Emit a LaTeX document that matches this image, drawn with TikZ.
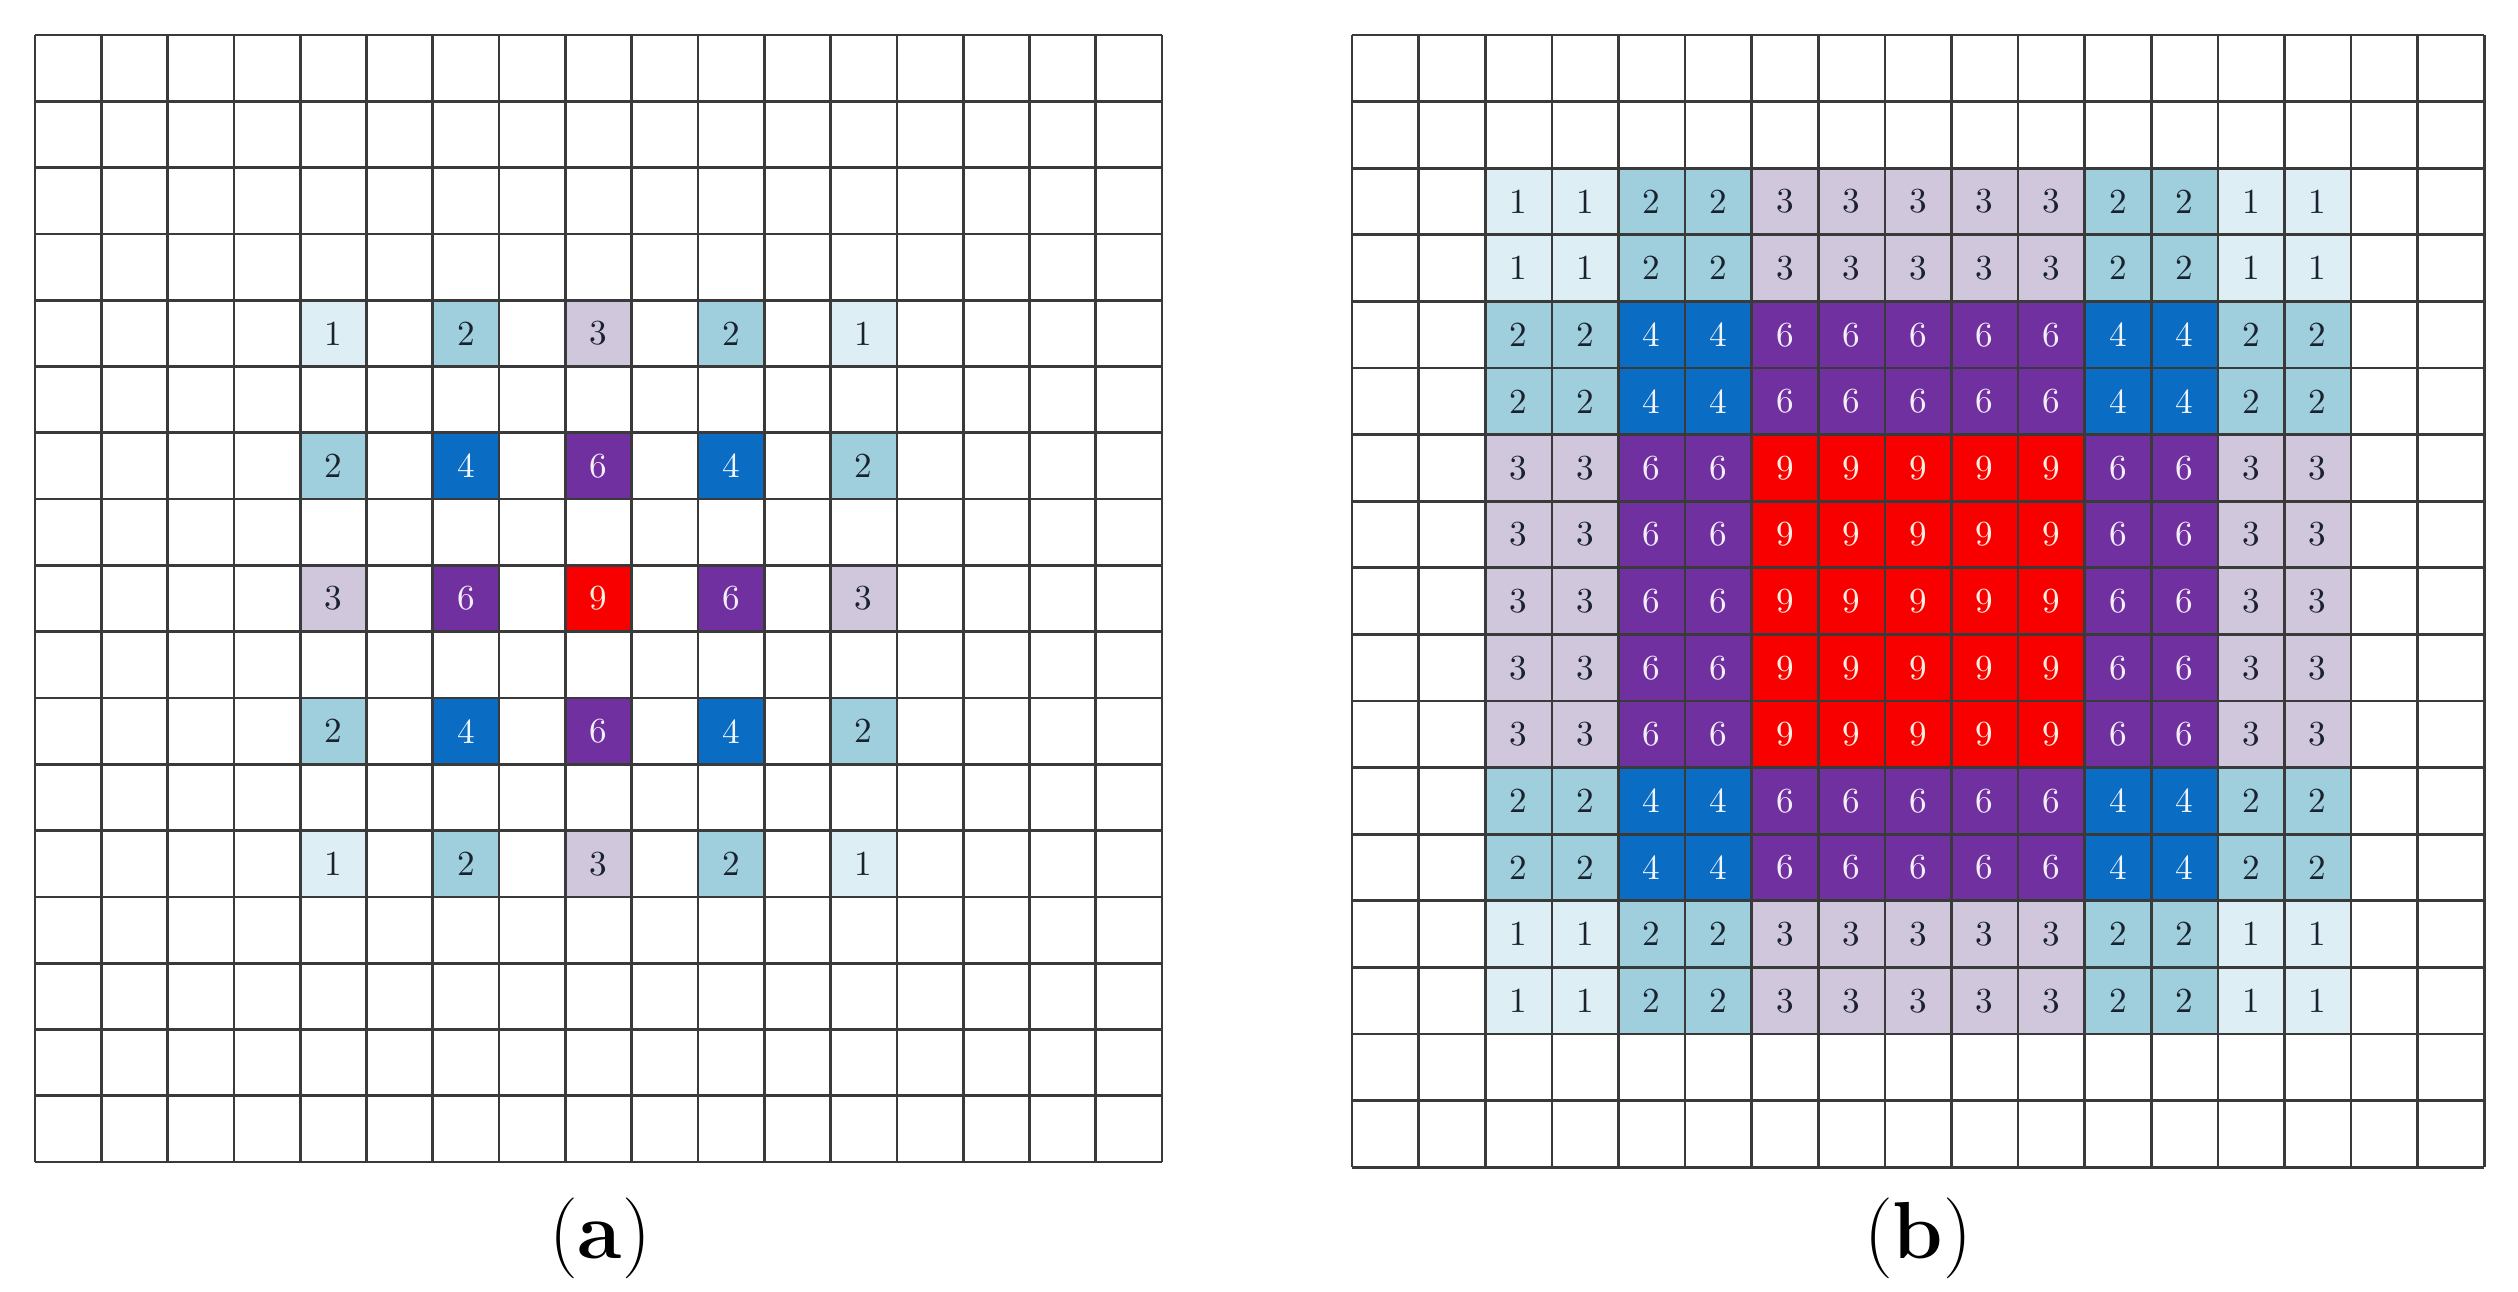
\documentclass[tikz,border=0pt]{standalone}
\definecolor{c1}{HTML}{DDEEF5}
\definecolor{c2}{HTML}{9FCFDC}
\definecolor{c3}{HTML}{D0C7DD}
\definecolor{c4}{HTML}{0B6CC4}
\definecolor{c6}{HTML}{7030A0}
\definecolor{c9}{HTML}{F80000}
\definecolor{t1}{HTML}{1A2230}
\definecolor{t2}{HTML}{1A2230}
\definecolor{t3}{HTML}{1A2230}
\definecolor{t4}{HTML}{F2F6FA}
\definecolor{t6}{HTML}{F4EEF8}
\definecolor{t9}{HTML}{FBEDE0}
\definecolor{gridc}{HTML}{3A3A3A}
\tikzset{
  cell/.style={rectangle, inner sep=0pt, draw=none, minimum width=0.665cm, minimum height=0.665cm, font=\fontsize{10}{11}\selectfont},
  gridline/.style={draw=gridc, line width=0.75pt},
  caption/.style={anchor=base, font=\fontsize{23}{26}\selectfont, inner sep=0pt}
}
\begin{document}
\begin{tikzpicture}[x=0.01cm,y=-0.01cm]
\useasboundingbox (0,0) rectangle (2518,1292);
% grid (a): origin (35,35), cell 66.3
\foreach \r/\wr in {4/1,6/2,8/3,10/2,12/1}{
  \foreach \c/\wc in {4/1,6/2,8/3,10/2,12/1}{
    \pgfmathtruncatemacro\v{\wr*\wc}
    \node[cell, fill=c\v, text=t\v] (a-\r-\c) at ({35+66.3*(\c+0.5)},{35+66.3*(\r+0.5)}) {\v};
  }
}
\foreach \k in {0,...,17}{
  \draw[gridline] ({35+66.3*\k},35) -- ({35+66.3*\k},{35+66.3*17});
  \draw[gridline] (35,{35+66.3*\k}) -- ({35+66.3*17},{35+66.3*\k});
}
% grid (b): origin (1352,35), cell 66.6
\foreach \r/\wr in {2/1,3/1,4/2,5/2,6/3,7/3,8/3,9/3,10/3,11/2,12/2,13/1,14/1}{
  \foreach \c/\wc in {2/1,3/1,4/2,5/2,6/3,7/3,8/3,9/3,10/3,11/2,12/2,13/1,14/1}{
    \pgfmathtruncatemacro\v{\wr*\wc}
    \node[cell, fill=c\v, text=t\v] (b-\r-\c) at ({1352+66.6*(\c+0.5)},{35+66.6*(\r+0.5)}) {\v};
  }
}
\foreach \k in {0,...,17}{
  \draw[gridline] ({1352+66.6*\k},35) -- ({1352+66.6*\k},{35+66.6*17});
  \draw[gridline] (1352,{35+66.6*\k}) -- ({1352+66.6*17},{35+66.6*\k});
}
\node[caption] (capa) at (600,1258) {(\textbf{a})};
\node[caption] (capb) at (1918,1258) {(\textbf{b})};
\end{tikzpicture}
\end{document}
